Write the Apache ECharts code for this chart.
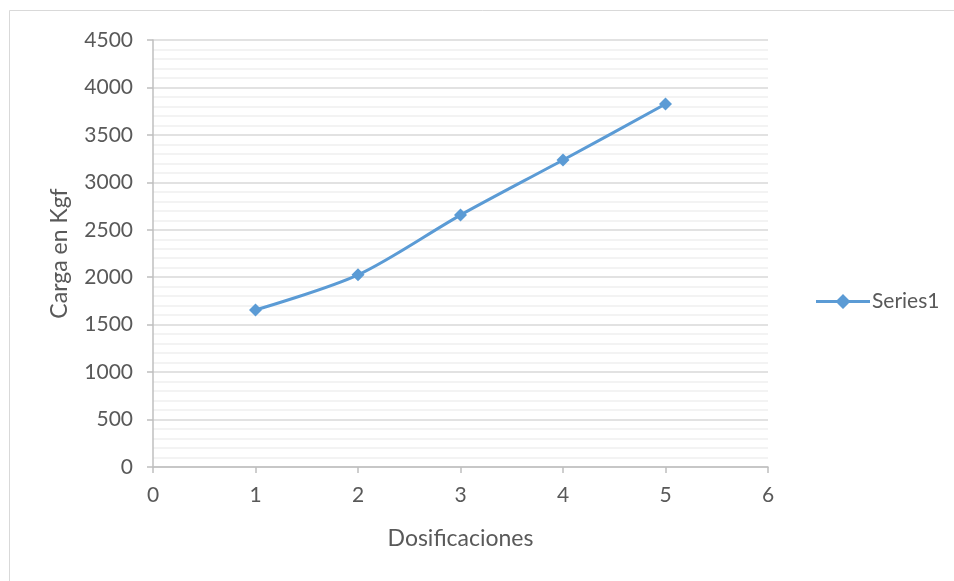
<!DOCTYPE html>
<html>
<head>
<meta charset="utf-8">
<script src="https://cdn.jsdelivr.net/npm/echarts@6/dist/echarts.min.js"></script>
<style>
  html, body { margin: 0; padding: 0; background: #fff; }
  #chart { width: 954px; height: 581px; }
</style>
</head>
<body>
<div id="chart"></div>
<script>
// Dosificación vs. carga
const dosificaciones = [1, 2, 3, 4, 5];
const cargaKgf = [1655, 2025, 2655, 3235, 3825];
const seriesName = 'Series1';
const xAxisTitle = 'Dosificaciones';
const yAxisTitle = 'Carga en Kgf';

const FONT = 'Lato, "Open Sans", sans-serif';
const TEXT = '#595959';
const LINE_COLOR = '#5B9BD5';

const chart = echarts.init(document.getElementById('chart'), null, { renderer: 'canvas' });

chart.setOption({
  animation: false,
  backgroundColor: '#ffffff',
  graphic: [{
    type: 'rect',
    shape: { x: 9.5, y: 10.5, width: 960, height: 590 },
    style: { fill: 'none', stroke: '#D9D9D9', lineWidth: 1 },
    silent: true,
    z: -1
  }],
  grid: { left: 153, right: 186, top: 40, bottom: 114 },
  legend: {
    data: [{
      name: seriesName,
      // line with a diamond marker in the middle
      icon: 'path://M0,5 L21,5 L27,-1 L33,5 L54,5 L54,8 L33,8 L27,14 L21,8 L0,8 Z'
    }],
    left: 811, top: 286,
    itemWidth: 54, itemHeight: 15,
    itemGap: 4,
    textStyle: { fontFamily: FONT, fontSize: 21, color: TEXT, padding: [0, 0, 0, -3] }
  },
  xAxis: {
    type: 'value',
    min: 0, max: 6, interval: 1,
    name: xAxisTitle,
    nameLocation: 'middle',
    nameGap: 60,
    nameTextStyle: { fontFamily: FONT, fontSize: 23, color: TEXT },
    axisLine: { show: true, lineStyle: { color: '#BFBFBF', width: 1.5 } },
    axisTick: { show: true, length: 6, lineStyle: { color: '#BFBFBF', width: 1.5 } },
    axisLabel: { fontFamily: FONT, fontSize: 21, color: TEXT, margin: 18 },
    splitLine: { show: false }
  },
  yAxis: {
    type: 'value',
    min: 0, max: 4500, interval: 500,
    name: yAxisTitle,
    nameLocation: 'middle',
    nameGap: 82,
    nameRotate: 90,
    nameTextStyle: { fontFamily: FONT, fontSize: 23, color: TEXT },
    axisLine: { show: true, lineStyle: { color: '#BFBFBF', width: 1.5 } },
    axisTick: { show: true, length: 6, lineStyle: { color: '#BFBFBF', width: 1.5 } },
    axisLabel: {
      fontFamily: FONT, fontSize: 21, color: TEXT, margin: 20,
      formatter: v => String(v)
    },
    splitLine: { show: true, lineStyle: { color: '#D9D9D9', width: 1.5 } },
    minorTick: { show: false, splitNumber: 5 },
    minorSplitLine: { show: true, lineStyle: { color: '#F0F0F0', width: 1.5 } }
  },
  series: [{
    name: seriesName,
    type: 'line',
    data: dosificaciones.map((d, i) => [d, cargaKgf[i]]),
    smooth: 0.3,
    symbol: 'diamond',
    symbolSize: 13,
    showAllSymbol: true,
    lineStyle: { color: LINE_COLOR, width: 3 },
    itemStyle: { color: LINE_COLOR }
  }]
});
</script>
</body>
</html>
